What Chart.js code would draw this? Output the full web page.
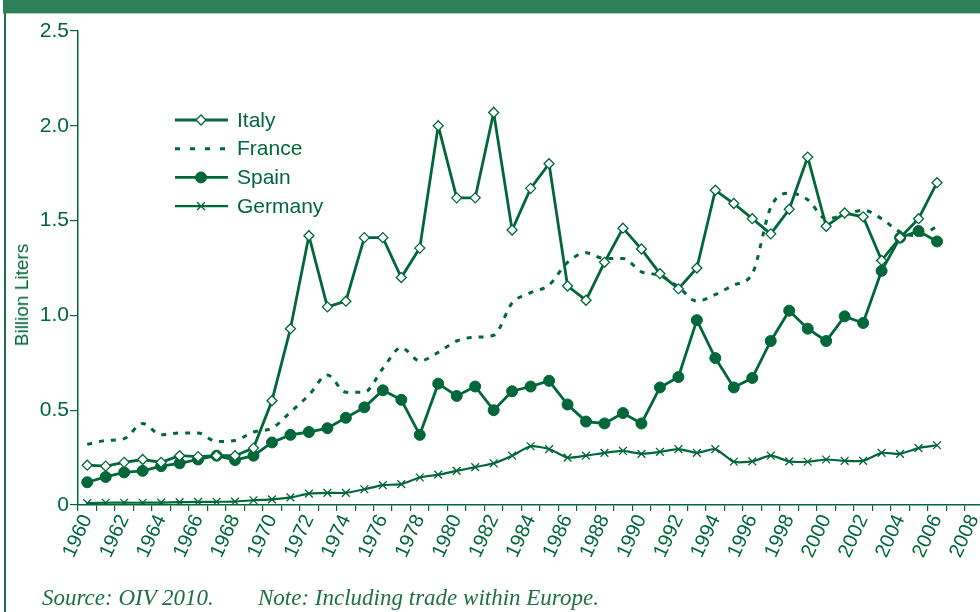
<!DOCTYPE html>
<html>
<head>
<meta charset="utf-8">
<script src="https://cdn.jsdelivr.net/npm/chart.js@4.4.1/dist/chart.umd.min.js"></script>
<style>
  html, body { margin: 0; padding: 0; overflow: hidden; background: #fff; }
  #page { position: relative; width: 980px; height: 612px; overflow: hidden; background: #fff; }
  #bar { position: absolute; left: 3px; top: 0; width: 977px; height: 13px; background: #2f7f58; border-bottom: 1px solid #a9cfb8; }
  #edge { position: absolute; left: 4px; top: 13px; width: 2px; height: 600px; background: #1f7048; }
  #wrap { position: absolute; left: 0; top: 0; width: 990px; height: 612px; }
  #ytitle { position: absolute; left: 22px; top: 295px; transform: translate(-50%, -50%) rotate(-90deg);
            font: 19px "Liberation Sans", Arial, sans-serif; color: #00673a; white-space: nowrap; }
  .foot { position: absolute; top: 585px; font: italic 23px "Liberation Serif", "Times New Roman", serif; color: #1f6e46; white-space: nowrap; }
</style>
</head>
<body>
<div id="page">
  <div id="bar"></div>
  <div id="edge"></div>
  <div id="wrap"><canvas id="chart" width="990" height="612"></canvas></div>
  <div id="ytitle">Billion Liters</div>
  <div class="foot" style="left:42px">Source: OIV 2010.</div>
  <div class="foot" style="left:258px">Note: Including trade within Europe.</div>
</div>
<script>
let years = [];
for (let y = 1960; y <= 2008; y++) years.push(String(y));

let italy = [0.21, 0.205, 0.225, 0.24, 0.225, 0.26, 0.255, 0.26, 0.26, 0.30,
  0.55, 0.93, 1.42, 1.045, 1.075, 1.41, 1.41, 1.20, 1.355, 2.00,
  1.62, 1.62, 2.07, 1.45, 1.67, 1.80, 1.155, 1.08, 1.28, 1.46,
  1.35, 1.22, 1.14, 1.25, 1.66, 1.59, 1.51, 1.43, 1.56, 1.835,
  1.47, 1.54, 1.52, 1.29, 1.41, 1.51, 1.70];

let france = [0.32, 0.34, 0.35, 0.43, 0.37, 0.38, 0.38, 0.335, 0.34, 0.385,
  0.405, 0.49, 0.58, 0.685, 0.595, 0.595, 0.72, 0.83, 0.76, 0.805,
  0.865, 0.885, 0.895, 1.065, 1.12, 1.16, 1.28, 1.33, 1.30, 1.30,
  1.23, 1.21, 1.15, 1.075, 1.11, 1.16, 1.22, 1.57, 1.645, 1.61,
  1.51, 1.53, 1.555, 1.51, 1.44, 1.42, 1.47];

let spain = [0.12, 0.148, 0.172, 0.18, 0.205, 0.22, 0.24, 0.26, 0.237, 0.26,
  0.33, 0.37, 0.385, 0.405, 0.46, 0.515, 0.605, 0.555, 0.37, 0.64,
  0.575, 0.625, 0.50, 0.60, 0.625, 0.655, 0.53, 0.44, 0.43, 0.485,
  0.43, 0.62, 0.675, 0.975, 0.775, 0.62, 0.67, 0.865, 1.025, 0.93,
  0.865, 0.995, 0.96, 1.235, 1.41, 1.445, 1.39];

let germany = [0.01, 0.012, 0.012, 0.012, 0.013, 0.015, 0.016, 0.017, 0.018, 0.025,
  0.03, 0.04, 0.06, 0.064, 0.064, 0.083, 0.105, 0.11, 0.145, 0.16,
  0.18, 0.20, 0.22, 0.26, 0.31, 0.295, 0.25, 0.26, 0.275, 0.285,
  0.27, 0.28, 0.295, 0.275, 0.295, 0.228, 0.23, 0.26, 0.23, 0.228,
  0.24, 0.233, 0.233, 0.275, 0.27, 0.30, 0.315];

let green = '#00673a';
let sans = '"Liberation Sans", Arial, sans-serif';

// legend drawn inside the plot, upper left
let insideLegend = {
  id: 'insideLegend',
  afterDraw(chart) {
    let c = chart.ctx;
    chart.data.datasets.forEach((ds, i) => {
      let y = 120 + i * 28.7;
      c.save();
      c.strokeStyle = ds.borderColor;
      c.lineWidth = ds.borderWidth;
      c.setLineDash(ds.legendDash || []);
      c.beginPath();
      c.moveTo(175, y);
      c.lineTo(228, y);
      c.stroke();
      c.setLineDash([]);
      if (ds.pointRadius) {
        c.fillStyle = ds.pointBackgroundColor;
        c.strokeStyle = ds.pointBorderColor;
        c.lineWidth = ds.pointBorderWidth;
        Chart.helpers.drawPoint(c, {pointStyle: ds.pointStyle, radius: ds.pointRadius, borderWidth: ds.pointBorderWidth, rotation: 0}, 201, y);
      }
      c.fillStyle = green;
      c.font = '21px ' + sans;
      c.textBaseline = 'middle';
      c.fillText(ds.label, 237, y + 1);
      c.restore();
    });
  }
};

let ctx = document.getElementById('chart').getContext('2d');
let chart = new Chart(ctx, {
  type: 'line',
  data: {
    labels: years,
    datasets: [{
      label: 'Italy',
      data: italy,
      borderColor: green,
      borderWidth: 2.8,
      pointStyle: 'rectRot',
      pointRadius: 5,
      pointBackgroundColor: '#fff',
      pointBorderColor: green,
      pointBorderWidth: 1.3,
      tension: 0
    }, {
      label: 'France',
      data: france,
      borderColor: green,
      borderWidth: 3,
      borderDash: [5, 7],
      legendDash: [5, 10],
      pointRadius: 0,
      cubicInterpolationMode: 'monotone'
    }, {
      label: 'Spain',
      data: spain,
      borderColor: green,
      borderWidth: 2.8,
      pointStyle: 'circle',
      pointRadius: 5.5,
      pointBackgroundColor: green,
      pointBorderColor: green,
      pointBorderWidth: 1,
      tension: 0
    }, {
      label: 'Germany',
      data: germany,
      borderColor: green,
      borderWidth: 2.2,
      pointStyle: 'crossRot',
      pointRadius: 5.5,
      pointBackgroundColor: green,
      pointBorderColor: green,
      pointBorderWidth: 1.3,
      tension: 0.2
    }]
  },
  options: {
    responsive: false,
    animation: false,
    layout: {padding: {top: 31, right: 5, left: 0, bottom: 0}},
    plugins: {legend: {display: false}, tooltip: {enabled: false}},
    scales: {
      x: {
        offset: true,
        grid: {offset: true, drawOnChartArea: false, color: green, tickLength: 6, lineWidth: 1.2},
        border: {color: green, width: 1.5},
        ticks: {
          autoSkip: false, minRotation: 65, maxRotation: 65, padding: 0,
          color: green, font: {size: 20, family: sans},
          callback: (v, i) => (i % 2 ? '' : years[i])
        },
        afterFit: s => { s.height = 107; s.paddingLeft = 0; s.paddingRight = 0; }
      },
      y: {
        min: 0, max: 2.5,
        grid: {drawOnChartArea: false, color: green, tickLength: 8, lineWidth: 1.2},
        border: {color: green, width: 1.5},
        ticks: {
          stepSize: 0.5, padding: 1, color: green, font: {size: 21, family: sans},
          callback: v => (v === 0 ? '0' : v.toFixed(1))
        },
        afterFit: s => { s.width = 78; s.paddingTop = 0; s.paddingBottom = 0; }
      }
    }
  },
  plugins: [insideLegend]
});
</script>
</body>
</html>
